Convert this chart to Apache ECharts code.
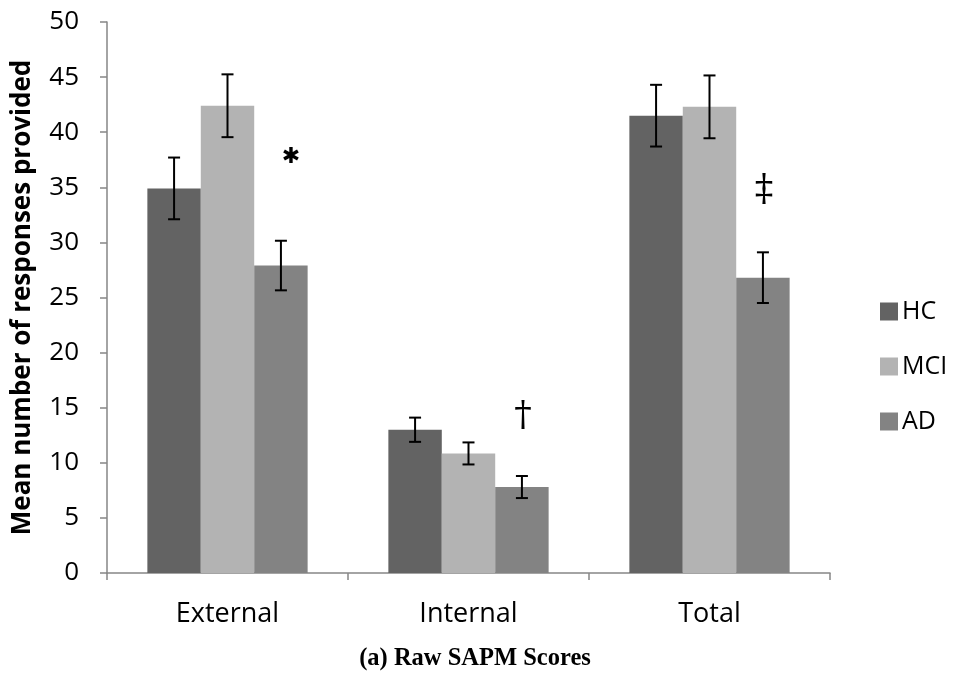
<!DOCTYPE html>
<html><head><meta charset="utf-8">
<script src="https://cdn.jsdelivr.net/npm/echarts@6/dist/echarts.min.js"></script>
<style>html,body{margin:0;padding:0;background:#fff}#c{width:956px;height:675px}</style>
</head><body><div id="c"></div>
<script>
const categories = ['External', 'Internal', 'Total'];
const groups = ['HC', 'MCI', 'AD'];
const hcValues = [34.9, 13.0, 41.5];
const mciValues = [42.4, 10.85, 42.3];
const adValues = [27.9, 7.8, 26.8];
const hcErr = [2.8, 1.1, 2.8];
const mciErr = [2.85, 1.0, 2.85];
const adErr = [2.25, 1.0, 2.3];
const yTicks = [0, 5, 10, 15, 20, 25, 30, 35, 40, 45, 50];
const annotSymbols = ['✱', '†', '‡'];
const annotCats = [0, 1, 2];
const annotSeries = [2, 2, 2];
const annotValues = [37.7, 14.2, 34.7];

const colors = ['#636363', '#b3b3b3', '#838383'];
const annotStyle = {
  '✱': { font: 'bold 22px "DejaVu Sans"', dx: 10 },
  '†': { font: '35px "DejaVu Serif"', dx: 1 },
  '‡': { font: '37px "DejaVu Serif"', dx: 1 }
};
const values = [hcValues, mciValues, adValues];
const errs = [hcErr, mciErr, adErr];
const CAT_GAP = 0.335;
const FONT = 'Open Sans';

function barOffset(api, si) {
  const band = api.size([1, 0])[0];
  const bw = band * (1 - CAT_GAP) / 3;
  return { off: (si - 1) * bw, bw: bw };
}

const series = [];
groups.forEach((g, si) => {
  series.push({
    name: g, type: 'bar', data: values[si], barGap: '0%', barCategoryGap: (CAT_GAP * 100) + '%',
    itemStyle: { color: colors[si] }, animation: false
  });
});
groups.forEach((g, si) => {
  series.push({
    type: 'custom', animation: false, silent: true, z: 10,
    data: categories.map((c, ci) => [ci, values[si][ci], errs[si][ci]]),
    renderItem: function (params, api) {
      const ci = api.value(0), v = api.value(1), e = api.value(2);
      const o = barOffset(api, si);
      const top = api.coord([ci, v + e]);
      const bot = api.coord([ci, v - e]);
      const x = top[0] + o.off;
      const hw = 6;
      const st = { stroke: '#000', lineWidth: 2 };
      return { type: 'group', children: [
        { type: 'line', shape: { x1: x, y1: top[1], x2: x, y2: bot[1] }, style: st },
        { type: 'line', shape: { x1: x - hw, y1: top[1], x2: x + hw, y2: top[1] }, style: st },
        { type: 'line', shape: { x1: x - hw, y1: bot[1], x2: x + hw, y2: bot[1] }, style: st }
      ]};
    }
  });
});
series.push({
  type: 'custom', animation: false, silent: true, z: 10,
  data: annotSymbols.map((s, i) => [annotCats[i], annotValues[i], annotSeries[i]]),
  renderItem: function (params, api) {
    const ci = api.value(0), v = api.value(1), si = api.value(2);
    const o = barOffset(api, si);
    const p = api.coord([ci, v]);
    const sym = annotSymbols[params.dataIndex];
    const s = annotStyle[sym];
    return { type: 'text', x: p[0] + o.off + s.dx, y: p[1], style: {
      text: sym, fill: '#000', align: 'center', verticalAlign: 'middle', font: s.font
    }};
  }
});

const chart = echarts.init(document.getElementById('c'));
chart.setOption({
  backgroundColor: '#fff',
  animation: false,
  grid: { left: 107, right: 126, top: 22, bottom: 102 },
  legend: {
    data: groups, orient: 'vertical', left: 875, top: 294, itemWidth: 18, itemHeight: 18, itemGap: 30,
    icon: 'rect', textStyle: { fontSize: 25, lineHeight: 18, color: '#000', fontFamily: FONT, padding: [0, 0, 0, -1] }
  },
  title: {
    text: '(a) Raw SAPM Scores', left: 470, textAlign: 'center', top: 641,
    textStyle: { fontFamily: 'Liberation Serif', fontWeight: 'bold', fontSize: 24.5, color: '#000' }
  },
  xAxis: {
    type: 'category', data: categories,
    axisLine: { lineStyle: { color: '#868686', width: 1.5 } },
    axisTick: { show: true, length: 7, lineStyle: { color: '#868686', width: 1.5 } },
    axisLabel: { fontSize: 27, color: '#000', fontFamily: FONT, margin: 28 }
  },
  yAxis: {
    type: 'value', min: yTicks[0], max: yTicks[yTicks.length - 1], interval: 5,
    name: 'Mean number of responses provided', nameLocation: 'middle', nameGap: 71,
    nameTextStyle: { fontSize: 26, fontWeight: 'bold', color: '#000', fontFamily: FONT },
    axisLine: { show: true, lineStyle: { color: '#868686', width: 1.5 } },
    axisTick: { show: true, length: 7, lineStyle: { color: '#868686', width: 1.5 } },
    splitLine: { show: false },
    axisLabel: { fontSize: 26, color: '#000', fontFamily: FONT, margin: 28 }
  },
  series: series
});
</script></body></html>
